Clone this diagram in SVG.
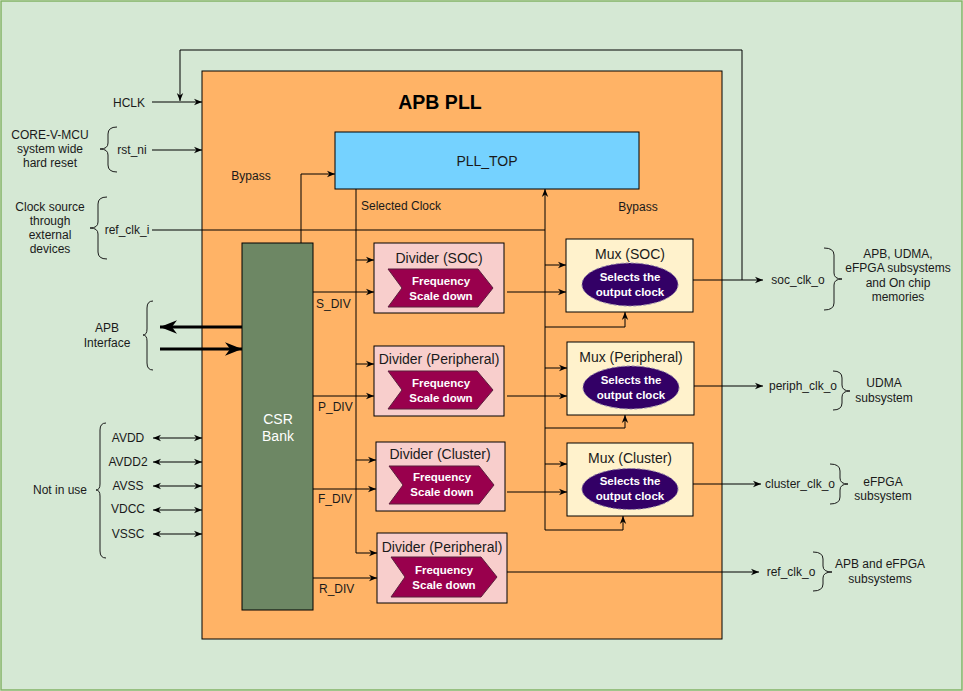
<svg xmlns="http://www.w3.org/2000/svg" width="963" height="691" viewBox="0 0 963 691">
<defs>
<style>
text{font-family:"Liberation Sans",Arial,Helvetica,sans-serif;fill:#1a1a1a;dominant-baseline:central;text-anchor:middle}
.t12{font-size:12px}
.t14{font-size:14px}
.lbl{font-size:12px;text-anchor:start}
.w{fill:#ffffff;font-weight:bold;font-size:11.5px}
.csr{fill:#ffffff;font-size:14px}
.ln{fill:none;stroke:#000000;stroke-width:1}
.arr{marker-end:url(#a)}
.dbl{marker-start:url(#a);marker-end:url(#a)}
.thick{fill:none;stroke:#000000;stroke-width:3;marker-end:url(#ta)}
.brace{fill:none;stroke:#1a1a1a;stroke-width:1}
.div{fill:#f8cecc;stroke:#000000;stroke-width:1}
.mux{fill:#fff2cc;stroke:#000000;stroke-width:1}
.chev{fill:#99004d;stroke:#5c1f3d;stroke-width:1}
.ell{fill:#330066;stroke:#8c7fa8;stroke-width:1;stroke-dasharray:3 2}
</style>
<marker id="a" viewBox="0 0 10 10" refX="10" refY="5" markerWidth="8" markerHeight="8" markerUnits="userSpaceOnUse" orient="auto-start-reverse">
<path d="M0,1 L10,5 L0,9 L3,5 z" fill="#000000"/>
</marker>
<marker id="ta" viewBox="0 0 10 10" refX="10" refY="5" markerWidth="17" markerHeight="17" markerUnits="userSpaceOnUse" orient="auto">
<path d="M0,1 L10,5 L0,9 L3,5 z" fill="#000000"/>
</marker>
</defs>

<g id="background">
<rect x="1" y="1" width="961" height="689" fill="#d5e8d4" stroke="#82b366" stroke-width="1.5"/>
</g>

<g id="apb-pll">
<rect x="202" y="71" width="520" height="568" fill="#ffb366" stroke="#000000" stroke-width="1"/>
<text x="440" y="102" style="font-size:19.5px;font-weight:bold;fill:#000000">APB PLL</text>
</g>

<g id="pll-top">
<rect x="335" y="132" width="304" height="57" fill="#75d2ff" stroke="#000000" stroke-width="1"/>
<text class="t14" x="487" y="161">PLL_TOP</text>
</g>

<g id="csr-bank">
<rect x="242" y="243" width="71" height="367" fill="#6d8764" stroke="#000000" stroke-width="1"/>
<text class="csr" x="278" y="419">CSR</text>
<text class="csr" x="278" y="436">Bank</text>
</g>

<g id="divider-soc">
<rect class="div" x="374" y="243" width="130" height="70"/>
<text class="t14" x="439" y="258">Divider (SOC)</text>
<polygon class="chev" points="388,269 478,269 493,288 478,307 388,307 402,288"/>
<text class="w" x="441" y="281">Frequency</text>
<text class="w" x="441" y="296">Scale down</text>
</g>

<g id="divider-peripheral">
<rect class="div" x="374" y="346" width="130" height="70"/>
<text class="t14" x="439" y="359">Divider (Peripheral)</text>
<polygon class="chev" points="388,371 477,371 493,390 477,409 388,409 402,390"/>
<text class="w" x="441" y="383">Frequency</text>
<text class="w" x="441" y="398">Scale down</text>
</g>

<g id="divider-cluster">
<rect class="div" x="376" y="442" width="129" height="69"/>
<text class="t14" x="440" y="454">Divider (Cluster)</text>
<polygon class="chev" points="389,466 479,466 494,485 479,504 389,504 403,485"/>
<text class="w" x="442" y="477">Frequency</text>
<text class="w" x="442" y="492">Scale down</text>
</g>

<g id="divider-ref">
<rect class="div" x="377" y="533" width="130" height="70"/>
<text class="t14" x="442" y="547">Divider (Peripheral)</text>
<polygon class="chev" points="391,557 481,557 497,577 481,597 391,597 405,577"/>
<text class="w" x="444" y="570">Frequency</text>
<text class="w" x="444" y="585">Scale down</text>
</g>

<g id="mux-soc">
<rect class="mux" x="566" y="239" width="127" height="73"/>
<text class="t14" x="630" y="254">Mux (SOC)</text>
<ellipse class="ell" cx="630" cy="284.5" rx="48" ry="21.5"/>
<text class="w" x="630" y="277">Selects the</text>
<text class="w" x="630" y="292">output clock</text>
</g>

<g id="mux-peripheral">
<rect class="mux" x="567" y="342" width="127" height="73"/>
<text class="t14" x="631" y="357">Mux (Peripheral)</text>
<ellipse class="ell" cx="631" cy="387.5" rx="48" ry="21.5"/>
<text class="w" x="631" y="380">Selects the</text>
<text class="w" x="631" y="395">output clock</text>
</g>

<g id="mux-cluster">
<rect class="mux" x="567" y="443" width="126" height="73"/>
<text class="t14" x="630" y="458">Mux (Cluster)</text>
<ellipse class="ell" cx="630" cy="489" rx="48" ry="20.5"/>
<text class="w" x="630" y="481">Selects the</text>
<text class="w" x="630" y="496">output clock</text>
</g>

<g id="labels">
<text class="t12" x="129" y="103">HCLK</text>
<text class="t12" x="132" y="150">rst_ni</text>
<text class="t12" x="50" y="135">CORE-V-MCU</text>
<text class="t12" x="50" y="149">system wide</text>
<text class="t12" x="50" y="163">hard reset</text>
<text class="t12" x="127" y="230">ref_clk_i</text>
<text class="t12" x="50" y="207">Clock source</text>
<text class="t12" x="50" y="221">through</text>
<text class="t12" x="50" y="235">external</text>
<text class="t12" x="50" y="249">devices</text>
<text class="t12" x="251" y="176">Bypass</text>
<text class="t12" x="401" y="206">Selected Clock</text>
<text class="t12" x="638" y="207">Bypass</text>
<text class="t12" x="107" y="328">APB</text>
<text class="t12" x="107" y="343">Interface</text>
<text class="t12" x="128" y="438">AVDD</text>
<text class="t12" x="128" y="462">AVDD2</text>
<text class="t12" x="128" y="486">AVSS</text>
<text class="t12" x="128" y="509">VDCC</text>
<text class="t12" x="128" y="534">VSSC</text>
<text class="t12" x="60" y="490">Not in use</text>
<text class="lbl" x="316" y="304">S_DIV</text>
<text class="lbl" x="318" y="407">P_DIV</text>
<text class="lbl" x="318" y="499">F_DIV</text>
<text class="lbl" x="319" y="589">R_DIV</text>
<text class="t12" x="798" y="280">soc_clk_o</text>
<text class="t12" x="898" y="254">APB, UDMA,</text>
<text class="t12" x="898" y="268">eFPGA subsystems</text>
<text class="t12" x="898" y="283">and On chip</text>
<text class="t12" x="898" y="297">memories</text>
<text class="t12" x="803" y="386">periph_clk_o</text>
<text class="t12" x="884" y="383">UDMA</text>
<text class="t12" x="884" y="398">subsystem</text>
<text class="t12" x="800" y="484">cluster_clk_o</text>
<text class="t12" x="883" y="482">eFPGA</text>
<text class="t12" x="883" y="496">subsystem</text>
<text class="t12" x="791" y="572">ref_clk_o</text>
<text class="t12" x="880" y="564">APB and eFPGA</text>
<text class="t12" x="880" y="579">subsystems</text>
</g>

<g id="braces">
<path class="brace" d="M117,127 Q108,127 108,134 L108,143 Q108,149 100,149 Q108,149 108,155 L108,165 Q108,172 117,172"/>
<path class="brace" d="M107,197 Q98,197 98,204 L98,222 Q98,228 90,228 Q98,228 98,234 L98,252 Q98,259 107,259"/>
<path class="brace" d="M153,301 Q147,301 147,308 L147,329 Q147,335 143,335 Q147,335 147,341 L147,363 Q147,370 153,370"/>
<path class="brace" d="M106,423 Q100,423 100,430 L100,484 Q100,490 96,490 Q100,490 100,496 L100,551 Q100,558 106,558"/>
<path class="brace" d="M824,248 Q834,248 834,255 L834,273 Q834,279 842,279 Q834,279 834,285 L834,303 Q834,310 824,310"/>
<path class="brace" d="M833,371 Q842,371 842,378 L842,385 Q842,391 850,391 Q842,391 842,397 L842,403 Q842,410 833,410"/>
<path class="brace" d="M830,464 Q840,464 840,471 L840,478 Q840,484 848,484 Q840,484 840,490 L840,497 Q840,504 830,504"/>
<path class="brace" d="M813,552 Q823,552 823,559 L823,566 Q823,572 832,572 Q823,572 823,578 L823,584 Q823,591 813,591"/>
</g>

<g id="connectors">
<path class="ln arr" d="M152,102 L202,102"/>
<path class="ln arr" d="M742,280 L742,50 L180,50 L180,101"/>
<path class="ln arr" d="M152,150 L202,150"/>
<path class="ln" d="M152,230 L545,230"/>
<path class="ln arr" d="M301,243 L301,174 L335,174"/>
<path class="ln arr" d="M356,189 L356,553 L377,553"/>
<path class="ln arr" d="M356,260 L374,260"/>
<path class="ln arr" d="M356,364 L374,364"/>
<path class="ln arr" d="M356,460 L376,460"/>
<path class="ln arr" d="M545,530 L545,189"/>
<path class="ln arr" d="M545,265 L566,265"/>
<path class="ln arr" d="M545,368 L567,368"/>
<path class="ln arr" d="M545,464 L567,464"/>
<path class="ln arr" d="M545,327 L625,327 L625,312"/>
<path class="ln arr" d="M545,428 L625,428 L625,415"/>
<path class="ln arr" d="M545,530 L623,530 L623,516"/>
<path class="ln arr" d="M313,292 L374,292"/>
<path class="ln arr" d="M313,396 L374,396"/>
<path class="ln arr" d="M313,489 L376,489"/>
<path class="ln arr" d="M313,578 L377,578"/>
<path class="ln arr" d="M507,292 L566,292"/>
<path class="ln arr" d="M507,396 L567,396"/>
<path class="ln arr" d="M507,492 L567,492"/>
<path class="ln arr" d="M693,280 L763,280"/>
<path class="ln arr" d="M694,386 L763,386"/>
<path class="ln arr" d="M693,484 L761,484"/>
<path class="ln arr" d="M507,572 L759,572"/>
<path class="thick" d="M242,327 L160,327"/>
<path class="thick" d="M160,349 L242,349"/>
<path class="ln dbl" d="M153,438 L202,438"/>
<path class="ln dbl" d="M153,462 L202,462"/>
<path class="ln dbl" d="M153,486 L202,486"/>
<path class="ln dbl" d="M153,510 L202,510"/>
<path class="ln dbl" d="M153,534 L202,534"/>
</g>
</svg>
